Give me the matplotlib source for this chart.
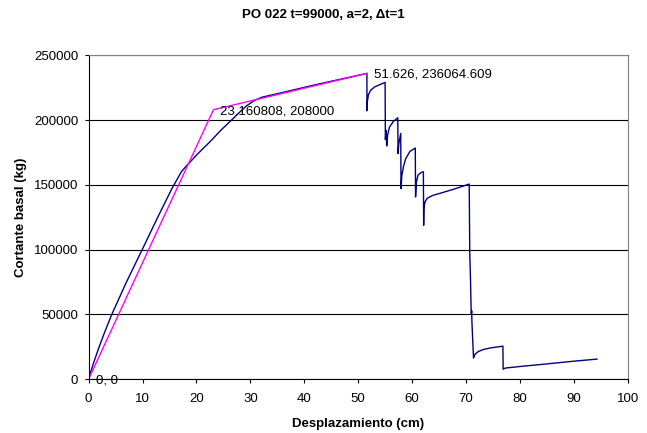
## Pushover curve PO 022 with its bilinear idealization

import matplotlib
matplotlib.use('Agg')
import matplotlib.pyplot as plt

plt.rcParams['font.family'] = ['Liberation Sans', 'DejaVu Sans']

# pushover curve (cm, kg)
desp = [0, 0.5, 1, 2, 3, 4.3, 7, 10, 13, 15.5, 17.2, 17.9, 20.2, 22.5, 24.5, 26.5, 28, 29.3,
        30.7, 32.1, 36, 42, 48, 51.626,
        51.63, 51.7, 51.9, 52.3, 53.1, 54.0, 55.0,
        55.05, 55.2, 55.3, 55.45, 55.8, 56.5, 57.35,
        57.4, 57.55, 57.9,
        57.95, 58.1, 58.4, 58.8, 59.6, 60.6,
        60.65, 60.8, 61.1, 61.6, 62.1,
        62.15, 62.2, 62.4, 62.8, 63.8, 65.2, 67.7, 70.6,
        70.7, 70.85, 70.95, 71.0, 71.05, 71.1, 71.2, 71.4,
        71.7, 72.3, 73.3, 74.5, 76.85,
        76.9, 77.3, 80, 85, 90, 94.3]
cortante = [0, 7000, 13500, 25500, 36500, 50000, 74800, 100500, 126500, 147500, 160000, 163500,
            173800, 183200, 192000, 200000, 206000, 211000, 215000, 217600, 221300, 227200,
            232700, 236064,
            207200, 214000, 219500, 223000, 225700, 227300, 229100,
            185000, 192000, 180000, 188000, 194500, 198800, 201800,
            174200, 182000, 189700,
            147200, 157000, 164000, 170000, 175800, 178400,
            140700, 152000, 157500, 159300, 160200,
            118800, 132000, 136800, 139600, 141800, 143500, 146600, 150600,
            99000, 75000, 55000, 50000, 53000, 45000, 35000, 16300,
            19400, 21400, 23000, 24100, 25500,
            7700, 8600, 9800, 11800, 13900, 15500]

# bilinear fit
bil_x = [0, 23.160808, 51.626]
bil_y = [0, 208000, 236064.609]
bil_labels = ['0, 0', '23.160808, 208000', '51.626, 236064.609']


def main():
    fig = plt.figure(figsize=(6.47, 4.33), dpi=100)
    ax = fig.add_axes([88.6 / 647, 1 - 379.2 / 433, 539.1 / 647, 323.9 / 433])

    ax.plot(desp, cortante, color='#000080', lw=1.0)
    ax.plot(bil_x, bil_y, color='#FF00FF', lw=1.0)

    # point labels
    for x, y, s in zip(bil_x, bil_y, bil_labels):
        ax.annotate(s, (x, y), xytext=(5, -1), textcoords='offset points',
                    ha='left', va='center', fontsize=9.5)

    ax.set_xlim(0, 100)
    ax.set_ylim(0, 250000)
    ax.set_xticks(range(0, 101, 10))
    ax.set_yticks(range(0, 250001, 50000))
    ax.tick_params(direction='out', length=3, width=0.8, labelsize=9.5)
    ax.tick_params(axis='x', pad=7)
    ax.tick_params(axis='y', pad=4.5)
    ax.yaxis.grid(True, color='black', lw=0.8)
    ax.set_axisbelow(True)

    for side in ['left', 'bottom']:
        ax.spines[side].set_color('black')
    for side in ['right', 'top']:
        ax.spines[side].set_color('#808080')

    # labels and title
    ax.set_xlabel('Desplazamiento (cm)', fontsize=9.5, fontweight='bold', labelpad=9)
    ax.set_ylabel('Cortante basal (kg)', fontsize=9.5, fontweight='bold', labelpad=5)
    fig.text(0.5, 1 - 15 / 433, 'PO 022 t=99000, a=2, \u0394t=1', ha='center', va='center',
             fontsize=9.5, fontweight='bold')

    fig.savefig('out.png', dpi=100)


if __name__ == "__main__":
    main()
